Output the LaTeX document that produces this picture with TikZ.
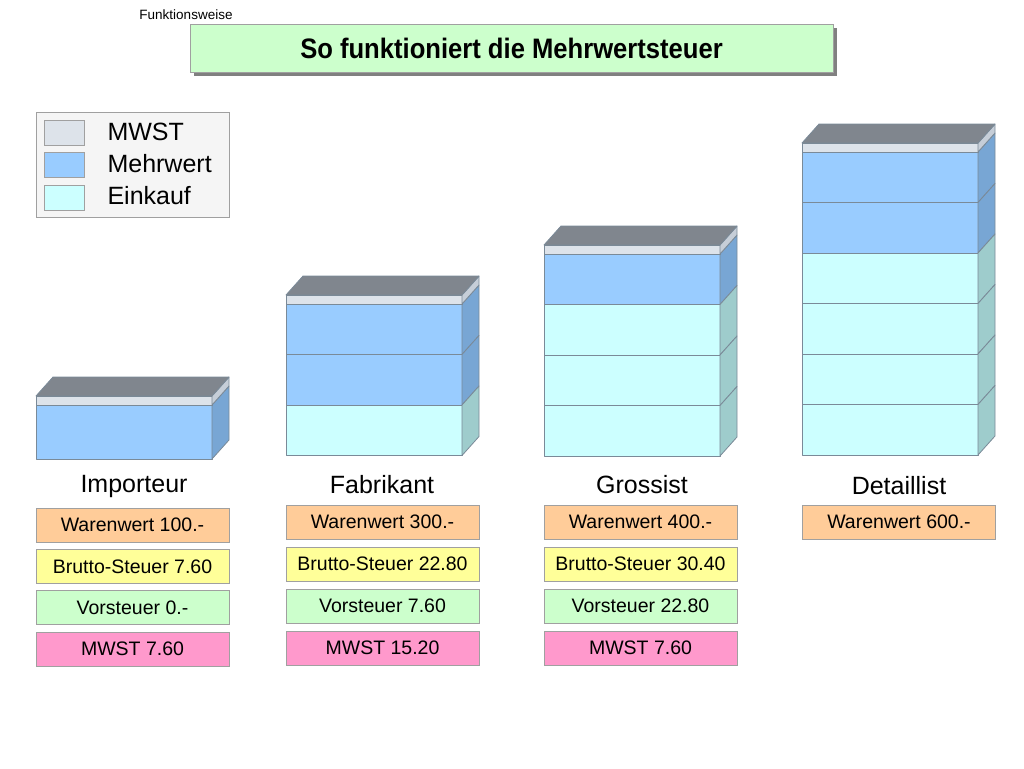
\documentclass[tikz,border=0pt]{standalone}
\usepackage{fontspec}
\setmainfont{Liberation Sans}
\usetikzlibrary{positioning, shadows}

\definecolor{mehrwert}{HTML}{99CCFF}
\definecolor{sidemehrwert}{HTML}{78A6D4}
\definecolor{einkauf}{HTML}{CCFFFF}
\definecolor{sideeinkauf}{HTML}{9ECCCC}
\definecolor{mwst}{HTML}{DDE3EA}
\definecolor{sidemwst}{HTML}{C6CED8}
\definecolor{topface}{HTML}{80868E}
\definecolor{edgeline}{HTML}{7A8A98}
\definecolor{boxline}{HTML}{A0A0A0}
\definecolor{waren}{HTML}{FFCC99}
\definecolor{brutto}{HTML}{FFFF99}
\definecolor{vorsteuer}{HTML}{CCFFCC}
\definecolor{mwstbox}{HTML}{FF99CC}

\tikzset{
    on grid,
    node distance=42pt,
    box/.style={draw=boxline, minimum width=193pt, minimum height=34pt, inner sep=0pt,
        font=\fontsize{19.5}{22}\selectfont},
    stufe/.style={font=\fontsize{25}{28}\selectfont},
    swatch/.style={draw=boxline, minimum width=40pt, minimum height=25pt, inner sep=0pt},
    kante/.style={draw=edgeline, line width=0.8pt, line join=round},
}

% #1 layer height, #2 left x, #3 top of the layers, #4 layers from top down
\newcommand{\stack}[4][50.5]{%
    \foreach \c [count=\i from 0] in {#4} {
        \filldraw[kante, fill=\c] (#2,#3+\i*#1) rectangle +(176,#1);
        \filldraw[kante, fill=side\c] (#2+176,#3+\i*#1) -- ++(17,-19) -- ++(0,#1) -- ++(-17,19) -- cycle;
    }
    \filldraw[kante, fill=mwst] (#2,#3-9) rectangle +(176,9);
    \filldraw[kante, fill=sidemwst] (#2+176,#3-9) -- ++(17,-19) -- ++(0,9) -- ++(-17,19) -- cycle;
    \filldraw[kante, fill=topface] (#2,#3-9) -- ++(17,-19) -- ++(176,0) -- ++(-17,19) -- cycle;
}

\begin{document}
\begin{tikzpicture}[x=1pt, y=-1pt]
    \useasboundingbox (0,0) rectangle (1024,768);

    \node[font=\fontsize{13.5}{15}\selectfont] (kopf) at (186,15) {Funktionsweise};
    \node[draw=boxline, fill=vorsteuer, minimum width=643pt, minimum height=48pt,
        drop shadow={shadow xshift=4pt, shadow yshift=-4pt, fill=gray, opacity=1},
        font=\fontsize{25.6}{28}\selectfont\bfseries] (titel) at (511.5,48)
        {\scalebox{1}[1.1]{So funktioniert die Mehrwertsteuer}};

    % legende
    \filldraw[draw=boxline, fill=gray!8] (36,112) rectangle (229,217);
    \node[swatch, fill=mwst] (sw-mwst) at (64,132.5) {};
    \node[swatch, fill=mehrwert] (sw-mehr) at (64,165) {};
    \node[swatch, fill=einkauf] (sw-ein) at (64,197.5) {};
    \node[stufe, anchor=west] (l-mwst) at (104,132) {MWST};
    \node[stufe, anchor=west] (l-mehr) at (104,164) {Mehrwert};
    \node[stufe, anchor=west] (l-ein) at (104,196) {Einkauf};

    % stapel
    \stack[54]{36}{405}{mehrwert}
    \stack{286}{304}{mehrwert,mehrwert,einkauf}
    \stack{544}{254}{mehrwert,einkauf,einkauf,einkauf}
    \stack{802}{152}{mehrwert,mehrwert,einkauf,einkauf,einkauf,einkauf}

    \node[stufe] (imp) at (134,486) {Importeur};
    \node[stufe] (fab) at (382,485) {Fabrikant};
    \node[stufe] (gro) at (642,485) {Grossist};
    \node[stufe] (det) at (899,486) {Detaillist};

    \node[box, fill=waren] (imp-w) at (132.5,525) {Warenwert 100.-};
    \node[box, fill=brutto, below=41.3pt of imp-w] (imp-b) {Brutto-Steuer 7.60};
    \node[box, fill=vorsteuer, below=41.3pt of imp-b] (imp-v) {Vorsteuer 0.-};
    \node[box, fill=mwstbox, below=41.3pt of imp-v] (imp-m) {MWST 7.60};

    \node[box, fill=waren] (fab-w) at (382.5,522) {Warenwert 300.-};
    \node[box, fill=brutto, below=of fab-w] (fab-b) {Brutto-Steuer 22.80};
    \node[box, fill=vorsteuer, below=of fab-b] (fab-v) {Vorsteuer 7.60};
    \node[box, fill=mwstbox, below=of fab-v] (fab-m) {MWST 15.20};

    \node[box, fill=waren] (gro-w) at (640.5,522) {Warenwert 400.-};
    \node[box, fill=brutto, below=of gro-w] (gro-b) {Brutto-Steuer 30.40};
    \node[box, fill=vorsteuer, below=of gro-b] (gro-v) {Vorsteuer 22.80};
    \node[box, fill=mwstbox, below=of gro-v] (gro-m) {MWST 7.60};

    \node[box, fill=waren] (det-w) at (899,522) {Warenwert 600.-};
\end{tikzpicture}
\end{document}
